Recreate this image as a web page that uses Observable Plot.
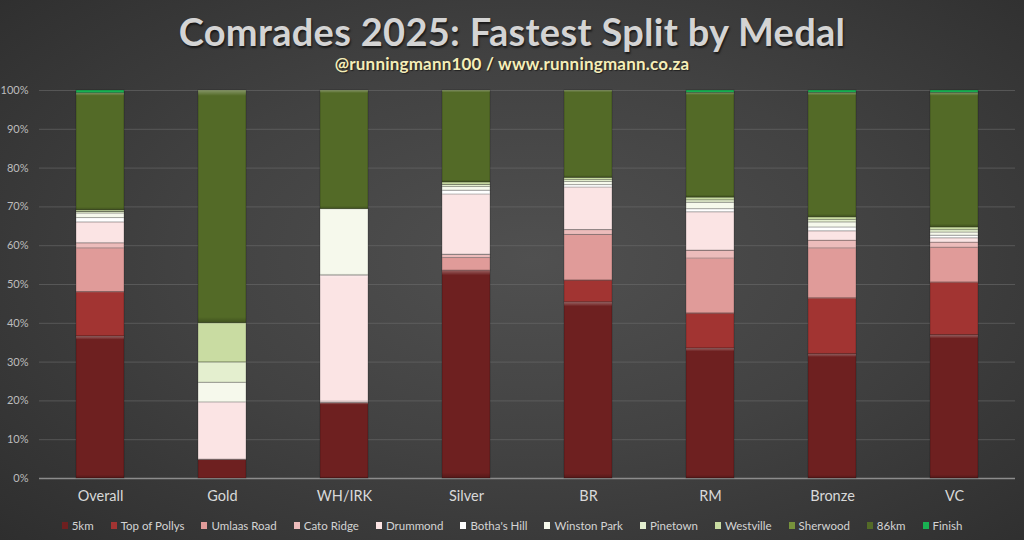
<!DOCTYPE html>
<html>
<head>
<meta charset="utf-8">
<script src="https://cdn.jsdelivr.net/npm/d3@7"></script>
<script src="https://cdn.jsdelivr.net/npm/@observablehq/plot@0.6"></script>
<style>
  html, body { margin: 0; padding: 0; }
  body {
    width: 1024px; height: 540px; overflow: hidden;
    background: radial-gradient(ellipse 75% 80% at 52% 48%, #505050 0%, #424242 45%, #2c2c2c 100%);
    font-family: Lato, "Open Sans", sans-serif;
  }
  #head { height: 80px; text-align: center; }
  #title { padding-top: 9px; font-size: 38px; font-weight: 700; color: #d4d4d4; line-height: 44px;
           text-shadow: 1px 2px 2px rgba(0,0,0,0.6); letter-spacing: 0.3px; }
  #sub { font-size: 17px; font-weight: 700; color: #f5eeb8; line-height: 22px; margin-top: 0px;
         text-shadow: 1px 1px 1px rgba(0,0,0,0.5); letter-spacing: 0.2px; }
  #legend { display: flex; justify-content: center; align-items: center; gap: 17px; height: 30px;
            font-size: 11.5px; color: #d4d4d4; }
  #legend .it { display: flex; align-items: center; gap: 4px; }
  #legend .sw { width: 6px; height: 7px; display: inline-block; }
</style>
</head>
<body>
<div id="head">
  <div id="title">Comrades 2025: Fastest Split by Medal</div>
  <div id="sub">@runningmann100 / www.runningmann.co.za</div>
</div>
<div id="chart"></div>
<div id="legend"></div>
<script>
const medals = ["Overall", "Gold", "WH/IRK", "Silver", "BR", "RM", "Bronze", "VC"];
const splits = ["5km", "Top of Pollys", "Umlaas Road", "Cato Ridge", "Drummond", "Botha's Hill",
                "Winston Park", "Pinetown", "Westville", "Sherwood", "86km", "Finish"];
const colors = ["#6e2020", "#a23432", "#e09b99", "#ecbcbb", "#fbe4e4", "#ffffff",
                "#f6f9ec", "#e4efcf", "#c9dca2", "#76923c", "#536a27", "#19b152"];
// percentage of each medal group's fastest split, per split point (Overall, Gold, WH/IRK, Silver, BR, RM, Bronze, VC)
const s5km        = [36.6,  4.8, 19.4, 53.6, 45.4, 33.5, 32.0, 36.9];
const sPollys     = [11.4,  0.0,  0.0,  0.0,  5.6,  9.0, 14.4, 13.6];
const sUmlaas     = [11.3,  0.0,  0.0,  3.2, 11.8, 14.2, 12.9,  9.0];
const sCato       = [ 1.3,  0.0,  0.0,  0.8,  1.2,  2.0,  2.0,  1.3];
const sDrummond   = [ 5.4, 14.8, 32.9, 15.6, 11.0,  9.9,  2.4,  1.1];
const sBotha      = [ 1.1,  0.0,  0.0,  1.0,  0.6,  0.8,  1.0,  0.7];
const sWinston    = [ 1.2,  5.1, 17.1,  0.9,  0.8,  1.7,  1.3,  0.8];
const sPinetown   = [ 0.4,  5.2,  0.0,  0.6,  0.5,  0.6,  0.6,  0.6];
const sWestville  = [ 0.4, 10.1,  0.0,  0.6,  0.6,  0.7,  0.7,  0.7];
const sSherwood   = [ 0.0,  0.0,  0.0,  0.0,  0.0,  0.0,  0.0,  0.0];
const s86km       = [30.2, 60.0, 30.6, 23.7, 22.5, 27.0, 32.1, 34.7];
const sFinish     = [ 0.7,  0.0,  0.0,  0.0,  0.0,  0.6,  0.6,  0.6];
const yTicks = [0, 10, 20, 30, 40, 50, 60, 70, 80, 90, 100];

const seriesValues = [s5km, sPollys, sUmlaas, sCato, sDrummond, sBotha, sWinston,
                      sPinetown, sWestville, sSherwood, s86km, sFinish];
const data = [];
medals.forEach((m, i) => {
  splits.forEach((s, j) => data.push({medal: m, split: s, value: seriesValues[j][i]}));
});

const plot = Plot.plot({
  width: 1024,
  height: 430,
  marginTop: 10,
  marginBottom: 32,
  marginLeft: 39,
  marginRight: 9,
  style: {background: "transparent", color: "#d9d9d9", fontFamily: "Lato, 'Open Sans', sans-serif"},
  x: {domain: medals, padding: 0, label: null, tickSize: 0, tickPadding: 12},
  y: {domain: [0, 100], ticks: yTicks, tickFormat: d => d + "%", label: null, tickSize: 0, tickPadding: 11},
  color: {domain: splits, range: colors},
  marks: [
    Plot.gridY(yTicks.filter(d => d > 0), {stroke: "#6a6a6a", strokeOpacity: 0.6, strokeWidth: 1}),
    Plot.ruleY([0], {stroke: "#8c8c8c", strokeWidth: 1.5}),
    Plot.barY(data, {x: "medal", y: "value", fill: "split", insetLeft: 37, insetRight: 37,
                     stroke: "rgba(0,0,0,0.28)", strokeWidth: 0.8}),
    Plot.barY(data, {x: "medal", y: "value", fill: "url(#bevel)", insetLeft: 37, insetRight: 37,
                     filter: d => d.value > 0})
  ]
});

// bevel gradient overlay definition
const svg = d3.select(plot);
const defs = svg.insert("defs", ":first-child");
const grad = defs.append("linearGradient").attr("id", "bevel")
  .attr("x1", 0).attr("y1", 0).attr("x2", 0).attr("y2", 1);
[[0, "#ffffff", 0.3], [0.025, "#ffffff", 0.0], [0.975, "#000000", 0.0], [1, "#000000", 0.25]]
  .forEach(([o, c, a]) => grad.append("stop").attr("offset", o).attr("stop-color", c).attr("stop-opacity", a));

svg.selectAll("[aria-label='y-axis tick label'] text").attr("font-size", 11).attr("fill", "#bdbdbd");
svg.selectAll("[aria-label='x-axis tick label'] text").attr("font-size", 14.5).attr("fill", "#d9d9d9");

document.getElementById("chart").appendChild(plot);

const legend = d3.select("#legend");
splits.forEach((s, i) => {
  const it = legend.append("div").attr("class", "it");
  it.append("span").attr("class", "sw").style("background", colors[i]);
  it.append("span").text(s);
});
</script>
</body>
</html>
